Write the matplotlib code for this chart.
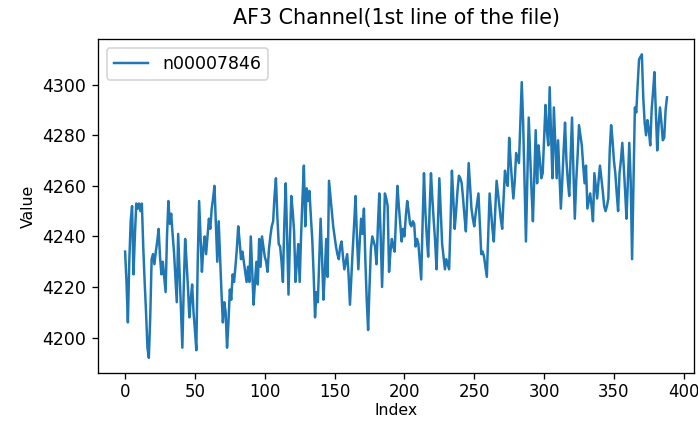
import numpy as np
import matplotlib
matplotlib.use("Agg")
import matplotlib.pyplot as plt

# AF3 channel readings, first line of the file
label = "n00007846"
values = [
    4234, 4222, 4206, 4230, 4246, 4252, 4225, 4240, 4253, 4251,
    4253, 4250, 4253, 4236, 4222, 4210, 4196, 4192, 4208, 4231,
    4233, 4229, 4234, 4238, 4243, 4232, 4225, 4230, 4224, 4218,
    4240, 4254, 4245, 4249, 4241, 4234, 4224, 4214, 4241, 4226,
    4210, 4196, 4220, 4239, 4230, 4220, 4208, 4215, 4221, 4210,
    4203, 4195, 4230, 4254, 4240, 4226, 4235, 4240, 4233, 4240,
    4247, 4243, 4251, 4255, 4260, 4245, 4230, 4246, 4232, 4218,
    4206, 4214, 4210, 4196, 4206, 4219, 4215, 4225, 4222, 4228,
    4235, 4244, 4238, 4231, 4234, 4230, 4226, 4222, 4228, 4222,
    4240, 4226, 4213, 4222, 4230, 4221, 4239, 4228, 4240, 4236,
    4232, 4230, 4226, 4235, 4240, 4244, 4246, 4256, 4263, 4248,
    4237, 4236, 4230, 4222, 4245, 4261, 4240, 4217, 4238, 4256,
    4250, 4242, 4222, 4230, 4237, 4222, 4240, 4255, 4268, 4244,
    4259, 4254, 4258, 4248, 4239, 4225, 4208, 4218, 4214, 4230,
    4247, 4232, 4215, 4226, 4239, 4224, 4262, 4256, 4250, 4244,
    4240, 4236, 4233, 4231, 4236, 4238, 4232, 4227, 4230, 4233,
    4225, 4213, 4224, 4235, 4245, 4256, 4240, 4227, 4238, 4247,
    4241, 4251, 4231, 4215, 4203, 4220, 4235, 4240, 4238, 4236,
    4229, 4244, 4257, 4240, 4220, 4238, 4257, 4255, 4252, 4226,
    4234, 4239, 4236, 4234, 4248, 4260, 4252, 4245, 4238, 4243,
    4240, 4248, 4254, 4250, 4245, 4244, 4246, 4245, 4236, 4239,
    4237, 4230, 4223, 4245, 4265, 4250, 4240, 4232, 4250, 4265,
    4255, 4246, 4238, 4227, 4245, 4263, 4250, 4237, 4232, 4227,
    4231, 4229, 4227, 4245, 4266, 4255, 4243, 4250, 4258, 4264,
    4263, 4261, 4255, 4248, 4242, 4255, 4269, 4260, 4251, 4247,
    4244, 4249, 4253, 4257, 4245, 4233, 4234, 4232, 4228, 4224,
    4240, 4257, 4250, 4243, 4238, 4250, 4262, 4257, 4252, 4247,
    4243, 4255, 4266, 4262, 4260, 4279, 4270, 4262, 4255, 4262,
    4273, 4271, 4269, 4285, 4301, 4285, 4262, 4238, 4262, 4287,
    4272, 4258, 4246, 4264, 4282, 4261, 4276, 4270, 4263, 4265,
    4278, 4292, 4282, 4276, 4299, 4280, 4263, 4291, 4277, 4263,
    4278, 4264, 4251, 4262, 4274, 4285, 4270, 4262, 4256, 4272,
    4287, 4266, 4247, 4262, 4272, 4284, 4280, 4276, 4268, 4261,
    4268, 4251, 4254, 4257, 4252, 4246, 4265, 4260, 4255, 4262,
    4268, 4263, 4258, 4252, 4250, 4252, 4255, 4274, 4284, 4278,
    4270, 4265, 4257, 4250, 4265, 4270, 4277, 4268, 4258, 4247,
    4262, 4277, 4262, 4231, 4260, 4291, 4289, 4300, 4310, 4311,
    4312, 4295, 4285, 4280, 4286, 4282, 4276, 4290, 4297, 4305,
    4290, 4274, 4284, 4291, 4285, 4278, 4279, 4290, 4295,
]

DPI = 119
fig = plt.figure(figsize=(698 / DPI, 421 / DPI), dpi=DPI)
ax = fig.add_axes([0.1404, 0.114, 0.854, 0.793])

ax.plot(np.arange(len(values)), values, color="#1f77b4", label=label)
ax.set_title("AF3 Channel(1st line of the file)", fontsize=12.5, pad=9)
ax.set_xlabel("Index", fontsize=9.5, labelpad=1)
ax.set_ylabel("Value", fontsize=9.5)
ax.tick_params(axis="y", labelsize=10.5)
ax.tick_params(axis="x", labelsize=10, pad=2.5)
ax.legend(loc="upper left", fontsize=10.5)

fig.savefig("out.png", dpi=DPI)
